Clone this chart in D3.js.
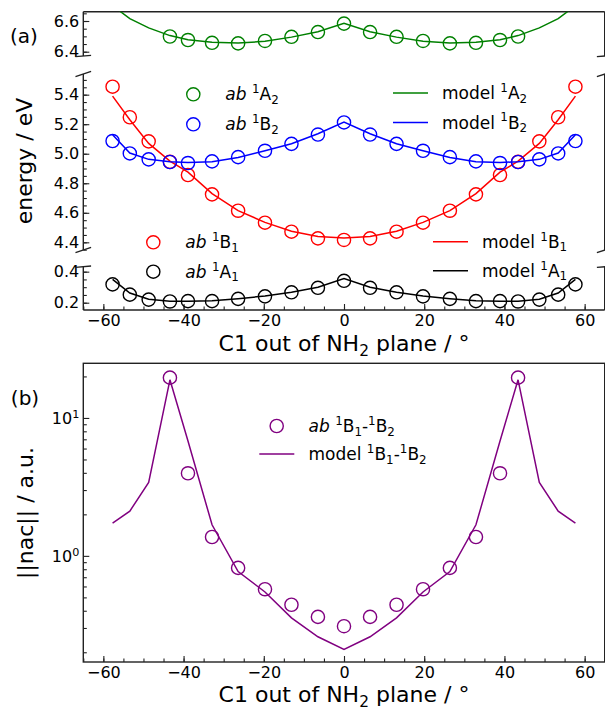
<!DOCTYPE html>
<html>
<head>
<meta charset="utf-8">
<script src="https://cdn.jsdelivr.net/npm/d3@7"></script>
<style>
  body { margin: 0; background: #fff; }
  text { font-family: "DejaVu Sans", sans-serif; fill: #000; }
</style>
</head>
<body>
<svg id="chart" width="605" height="712"></svg>
<script>
// angle grid (C1 out of NH2 plane, degrees)
const angles = [-57.7, -53.4, -48.7, -43.4, -38.9, -32.9, -26.4, -19.7, -13.1, -6.5, 0,
  6.5, 13.1, 19.7, 26.4, 32.9, 38.9, 43.4, 48.7, 53.4, 57.7];
const abAngles = [-43.4, -38.9, -32.9, -26.4, -19.7, -13.1, -6.5, 0,
  6.5, 13.1, 19.7, 26.4, 32.9, 38.9, 43.4];

// energies / eV
const abA2 = [6.499, 6.476, 6.458, 6.454, 6.470, 6.497, 6.528, 6.583, 6.528, 6.497, 6.470, 6.454, 6.458, 6.476, 6.499];
const modelA2 = [6.70, 6.615, 6.555, 6.505, 6.478, 6.462, 6.456, 6.468, 6.495, 6.530, 6.585,
  6.530, 6.495, 6.468, 6.456, 6.462, 6.478, 6.505, 6.555, 6.615, 6.70];
const abB2 = [5.086, 5.002, 4.962, 4.944, 4.937, 4.948, 4.977, 5.020, 5.067, 5.130, 5.212,
  5.130, 5.067, 5.020, 4.977, 4.948, 4.937, 4.944, 4.962, 5.002, 5.086];
const modelB2 = [5.128, 5.005, 4.962, 4.946, 4.940, 4.946, 4.975, 5.020, 5.068, 5.135, 5.215,
  5.135, 5.068, 5.020, 4.975, 4.946, 4.940, 4.946, 4.962, 5.005, 5.128];
const abB1 = [5.454, 5.247, 5.084, 4.945, 4.856, 4.725, 4.614, 4.533, 4.472, 4.427, 4.416,
  4.427, 4.472, 4.533, 4.614, 4.725, 4.856, 4.945, 5.084, 5.247, 5.454];
const modelB1 = [5.39, 5.23, 5.07, 4.95, 4.875, 4.73, 4.615, 4.535, 4.475, 4.44, 4.43,
  4.44, 4.475, 4.535, 4.615, 4.73, 4.875, 4.95, 5.07, 5.23, 5.39];
const abA1 = [0.318, 0.252, 0.220, 0.208, 0.210, 0.210, 0.225, 0.241, 0.267, 0.296, 0.341,
  0.296, 0.267, 0.241, 0.225, 0.210, 0.210, 0.208, 0.220, 0.252, 0.318];
const modelA1 = [0.350, 0.262, 0.222, 0.210, 0.210, 0.212, 0.226, 0.243, 0.268, 0.300, 0.355,
  0.300, 0.268, 0.243, 0.226, 0.212, 0.210, 0.210, 0.222, 0.262, 0.350];

// ||nac|| / a.u.
const nacAb = [19.6, 3.97, 1.37, 0.818, 0.573, 0.442, 0.361, 0.309, 0.361, 0.442, 0.573, 0.818, 1.37, 3.97, 19.6];
const nacModel = [1.73, 2.11, 3.41, 18.9, 6.8, 1.68, 0.77, 0.547, 0.355, 0.259, 0.21,
  0.259, 0.355, 0.547, 0.77, 1.68, 6.8, 18.9, 3.41, 2.11, 1.73];

const xTicks = [-60, -40, -20, 0, 20, 40, 60];
const topTicks = [6.4, 6.6];
const midTicks = [4.4, 4.6, 4.8, 5.0, 5.2, 5.4];
const botTicks = [0.2, 0.4];

const svg = d3.select("#chart");
const left = 83.3, right = 604.7;
const x = d3.scaleLinear().domain([-65, 65]).range([left, right]);
const axisColor = "#222";

// rich text helper: parts = [[text, kind]] kind: n | i | sup | sub
function rich(sel, parts, size) {
  let shift = 0;
  parts.forEach(([s, kind]) => {
    const t = sel.append("tspan").text(s);
    let target = 0, fs = size;
    if (kind === "sup") { target = -0.42 * size; fs = size * 0.7; }
    if (kind === "sub") { target = 0.22 * size; fs = size * 0.7; }
    if (kind === "i") t.attr("font-style", "italic");
    t.attr("font-size", fs).attr("dy", target - shift);
    shift = target;
  });
  return sel;
}

const styleAxis = (g, size) => {
  g.select(".domain").remove();
  g.selectAll("line").attr("stroke", axisColor).attr("stroke-width", 1.1);
  g.selectAll("text").attr("font-size", size).attr("font-family", "DejaVu Sans");
  return g;
};

const drawSeries = ({ container, xs, ys, y, color, markers, line }) => {
  const pts = xs.map((a, i) => [a, ys[i]]);
  if (line) {
    container.append("path")
      .datum(pts)
      .attr("fill", "none")
      .attr("stroke", color)
      .attr("stroke-width", 1.5)
      .attr("d", d3.line().x(d => x(d[0])).y(d => y(d[1])));
  }
  if (markers) {
    container.selectAll(null)
      .data(pts)
      .join("circle")
      .attr("cx", d => x(d[0]))
      .attr("cy", d => y(d[1]))
      .attr("r", 6.6)
      .attr("fill", "none")
      .attr("stroke", color)
      .attr("stroke-width", 1.4);
  }
};

// ---------- panel (a): broken axis ----------
const segments = [
  { id: "segTop", domain: [6.372, 6.6606], range: [56, 11.7], ticks: topTicks, top: true },
  { id: "segMid", domain: [4.348, 5.540], range: [250, 74], ticks: midTicks },
  { id: "segBot", domain: [0.153, 0.432], range: [310, 266.7], ticks: botTicks, bottom: true }
];

const defs = svg.append("defs");
segments.forEach(s => {
  s.y = d3.scaleLinear().domain(s.domain).range(s.range);
  defs.append("clipPath").attr("id", "clip-" + s.id)
    .append("rect")
    .attr("x", left).attr("y", s.range[1])
    .attr("width", right - left).attr("height", s.range[0] - s.range[1]);
});

const [segTop, segMid, segBot] = segments;

segments.forEach(s => {
  // minor + major ticks, inward
  const minor = d3.range(s.domain[0], s.domain[1], 0.0001)
    .map(v => Math.round(v * 20) / 20)
    .filter((v, i, a) => a.indexOf(v) === i && v >= s.domain[0] && v <= s.domain[1]);
  styleAxis(svg.append("g").attr("transform", `translate(${left},0)`)
    .call(d3.axisLeft(s.y).tickValues(minor).tickSize(-3.5).tickFormat("")), 16);
  styleAxis(svg.append("g").attr("transform", `translate(${left},0)`)
    .call(d3.axisLeft(s.y).tickValues(s.ticks).tickSize(-6).tickPadding(4).tickFormat(d3.format(".1f"))), 16);

  // spines
  const sp = svg.append("g").attr("stroke", axisColor).attr("stroke-width", 1.4);
  sp.append("line").attr("x1", left).attr("x2", left).attr("y1", s.range[1]).attr("y2", s.range[0]);
  sp.append("line").attr("x1", right).attr("x2", right).attr("y1", s.range[1]).attr("y2", s.range[0]);
  if (s.top) sp.append("line").attr("x1", left).attr("x2", right).attr("y1", s.range[1]).attr("y2", s.range[1]);
  if (s.bottom) sp.append("line").attr("x1", left).attr("x2", right).attr("y1", s.range[0]).attr("y2", s.range[0]);

  // break marks
  const h = s.range[0] - s.range[1], dx = 7.8, dy = 0.015 * h;
  const edges = [];
  if (!s.top) edges.push(s.range[1]);
  if (!s.bottom) edges.push(s.range[0]);
  edges.forEach(ey => [left, right].forEach(ex => {
    sp.append("line").attr("x1", ex - dx).attr("y1", ey + dy).attr("x2", ex + dx).attr("y2", ey - dy);
  }));
});

// x axis of panel (a)
const xMinor = d3.range(-65, 66, 5);
styleAxis(svg.append("g").attr("transform", `translate(0,${segBot.range[0]})`)
  .call(d3.axisBottom(x).tickValues(xMinor).tickSize(-3.5).tickFormat("")), 16);
styleAxis(svg.append("g").attr("transform", `translate(0,${segBot.range[0]})`)
  .call(d3.axisBottom(x).tickValues(xTicks).tickSize(-6).tickPadding(5).tickFormat(d3.format("d"))), 16);

// data in panel (a)
const gTop = svg.append("g").attr("clip-path", "url(#clip-segTop)");
drawSeries({ container: gTop, xs: angles, ys: modelA2, y: segTop.y, color: "#008000", line: true });
drawSeries({ container: gTop, xs: abAngles, ys: abA2, y: segTop.y, color: "#008000", markers: true });

const gMid = svg.append("g").attr("clip-path", "url(#clip-segMid)");
drawSeries({ container: gMid, xs: angles, ys: abB1, y: segMid.y, color: "#ff0000", markers: true });
drawSeries({ container: gMid, xs: angles, ys: modelB1, y: segMid.y, color: "#ff0000", line: true });
drawSeries({ container: gMid, xs: angles, ys: abB2, y: segMid.y, color: "#0000ff", markers: true });
drawSeries({ container: gMid, xs: angles, ys: modelB2, y: segMid.y, color: "#0000ff", line: true });

const gBot = svg.append("g").attr("clip-path", "url(#clip-segBot)");
drawSeries({ container: gBot, xs: angles, ys: abA1, y: segBot.y, color: "#000", markers: true });
drawSeries({ container: gBot, xs: angles, ys: modelA1, y: segBot.y, color: "#000", line: true });

// legends (a)
const legSize = 17;
const legMarker = (cx, cy, color, parts) => {
  svg.append("circle").attr("cx", cx).attr("cy", cy).attr("r", 6.6)
    .attr("fill", "none").attr("stroke", color).attr("stroke-width", 1.4);
  rich(svg.append("text").attr("x", cx + 32).attr("y", cy + 6), parts, legSize);
};
const legLine = (x1, cy, color, parts) => {
  svg.append("line").attr("x1", x1).attr("x2", x1 + 35).attr("y1", cy).attr("y2", cy)
    .attr("stroke", color).attr("stroke-width", 1.5);
  rich(svg.append("text").attr("x", x1 + 49).attr("y", cy + 6), parts, legSize);
};
const abLab = (st, n) => [["ab", "i"], [" ", "n"], ["1", "sup"], [st, "n"], [n, "sub"]];
const modelLab = (st, n) => [["model ", "n"], ["1", "sup"], [st, "n"], [n, "sub"]];

legMarker(193.3, 94.3, "#008000", abLab("A", "2"));
legMarker(193.3, 124.3, "#0000ff", abLab("B", "2"));
legLine(393, 93, "#008000", modelLab("A", "2"));
legLine(393, 122.5, "#0000ff", modelLab("B", "2"));
legMarker(153.3, 242.3, "#ff0000", abLab("B", "1"));
legMarker(153.3, 271.7, "#000", abLab("A", "1"));
legLine(433, 241.7, "#ff0000", modelLab("B", "1"));
legLine(433, 270.7, "#000", modelLab("A", "1"));

// labels (a)
svg.append("text").attr("x", 24).attr("y", 43).attr("text-anchor", "middle")
  .attr("font-size", 20).text("(a)");
svg.append("text").attr("transform", "translate(32,161) rotate(-90)")
  .attr("text-anchor", "middle").attr("font-size", 22).text("energy / eV");
rich(svg.append("text").attr("x", 344).attr("y", 351).attr("text-anchor", "middle"),
  [["C1 out of NH", "n"], ["2", "sub"], [" plane / °", "n"]], 22);

// ---------- panel (b): log scale ----------
const bTop = 363.3, bBot = 662;
const yb = d3.scaleLog().domain([0.17, 24.9]).range([bBot, bTop]);
defs.append("clipPath").attr("id", "clip-b").append("rect")
  .attr("x", left).attr("y", bTop).attr("width", right - left).attr("height", bBot - bTop);

const logMinor = [0.2, 0.3, 0.4, 0.5, 0.6, 0.7, 0.8, 0.9, 2, 3, 4, 5, 6, 7, 8, 9, 20];
styleAxis(svg.append("g").attr("transform", `translate(${left},0)`)
  .call(d3.axisLeft(yb).tickValues(logMinor).tickSize(-3.5).tickFormat("")), 16);
const logMajor = svg.append("g").attr("transform", `translate(${left},0)`)
  .call(d3.axisLeft(yb).tickValues([1, 10]).tickSize(-6).tickPadding(4).tickFormat(""));
styleAxis(logMajor, 16);
logMajor.selectAll(".tick").each(function (d) {
  const t = d3.select(this).append("text").attr("x", -4).attr("y", 6)
    .attr("text-anchor", "end").attr("font-size", 16);
  rich(t, [["10", "n"], [String(Math.round(Math.log10(d))), "sup"]], 16);
});

styleAxis(svg.append("g").attr("transform", `translate(0,${bBot})`)
  .call(d3.axisBottom(x).tickValues(xMinor).tickSize(-3.5).tickFormat("")), 16);
styleAxis(svg.append("g").attr("transform", `translate(0,${bBot})`)
  .call(d3.axisBottom(x).tickValues(xTicks).tickSize(-6).tickPadding(5).tickFormat(d3.format("d"))), 16);

svg.append("rect").attr("x", left).attr("y", bTop).attr("width", right - left).attr("height", bBot - bTop)
  .attr("fill", "none").attr("stroke", axisColor).attr("stroke-width", 1.4);

const gB = svg.append("g").attr("clip-path", "url(#clip-b)");
drawSeries({ container: gB, xs: angles, ys: nacModel, y: yb, color: "#800080", line: true });
drawSeries({ container: gB, xs: abAngles, ys: nacAb, y: yb, color: "#800080", markers: true });

// legend (b)
svg.append("circle").attr("cx", 276.7).attr("cy", 426).attr("r", 6.6)
  .attr("fill", "none").attr("stroke", "#800080").attr("stroke-width", 1.4);
rich(svg.append("text").attr("x", 308.5).attr("y", 432),
  [["ab", "i"], [" ", "n"], ["1", "sup"], ["B", "n"], ["1", "sub"], ["-", "n"], ["1", "sup"], ["B", "n"], ["2", "sub"]], legSize);
svg.append("line").attr("x1", 259.3).attr("x2", 294.3).attr("y1", 454).attr("y2", 454)
  .attr("stroke", "#800080").attr("stroke-width", 1.5);
rich(svg.append("text").attr("x", 308.5).attr("y", 460),
  [["model ", "n"], ["1", "sup"], ["B", "n"], ["1", "sub"], ["-", "n"], ["1", "sup"], ["B", "n"], ["2", "sub"]], legSize);

// labels (b)
svg.append("text").attr("x", 25).attr("y", 405).attr("text-anchor", "middle")
  .attr("font-size", 20).text("(b)");
svg.append("text").attr("transform", "translate(33,513) rotate(-90)")
  .attr("text-anchor", "middle").attr("font-size", 22).text("||nac|| / a.u.");
rich(svg.append("text").attr("x", 344).attr("y", 702).attr("text-anchor", "middle"),
  [["C1 out of NH", "n"], ["2", "sub"], [" plane / °", "n"]], 22);
</script>
</body>
</html>
